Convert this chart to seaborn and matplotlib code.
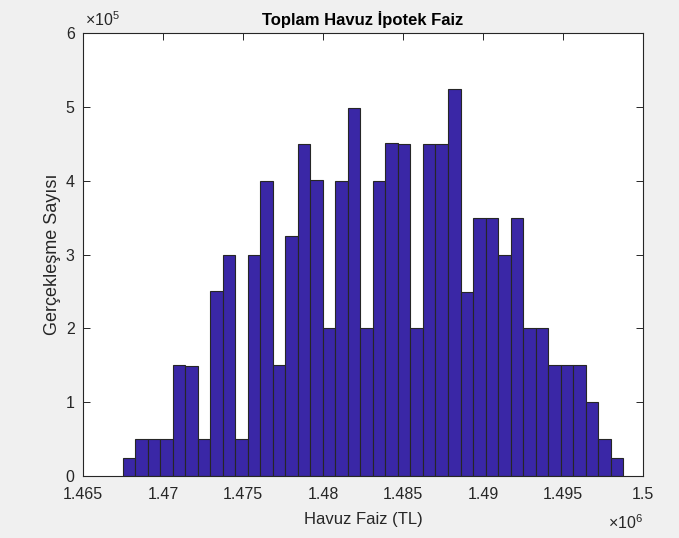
import numpy as np
import pandas as pd
import matplotlib
matplotlib.use("Agg")
import matplotlib.pyplot as plt
import seaborn as sns

# Histogram bins (TL) and occurrence counts per bin
bin_start = 1467500.0
bin_width = 781.25
counts = [25000, 50000, 50000, 50000, 150000, 149000, 50000, 250000, 300000, 50000,
          300000, 400000, 150000, 325000, 449000, 401000, 200000, 400000, 499000, 200000,
          400000, 451000, 449000, 200000, 449000, 450000, 524000, 249000, 349000, 350000,
          300000, 350000, 200000, 200000, 150000, 150000, 150000, 100000, 50000, 25000]
x_ticks = [1.465e6, 1.47e6, 1.475e6, 1.48e6, 1.485e6, 1.49e6, 1.495e6, 1.5e6]
x_tick_labels = ["1.465", "1.47", "1.475", "1.48", "1.485", "1.49", "1.495", "1.5"]
y_ticks = [0, 1e5, 2e5, 3e5, 4e5, 5e5, 6e5]
y_tick_labels = ["0", "1", "2", "3", "4", "5", "6"]

edges = bin_start + bin_width * np.arange(len(counts) + 1)
centers = (edges[:-1] + edges[1:]) / 2
df = pd.DataFrame({"faiz": centers, "n": counts})

sns.set_theme(style="white")
plt.rcParams["font.family"] = ["Liberation Sans", "DejaVu Sans"]
plt.rcParams["mathtext.fontset"] = "custom"
plt.rcParams["mathtext.rm"] = "Liberation Sans"
plt.rcParams["mathtext.it"] = "Liberation Sans"

fig = plt.figure(figsize=(6.79, 5.38), dpi=100, facecolor="#f0f0f0")
ax = fig.add_axes([0.1222, 0.1152, 0.8248, 0.8235])
ax.set_facecolor("white")

sns.histplot(data=df, x="faiz", weights="n", binwidth=bin_width,
             binrange=(float(edges[0]), float(edges[-1])), ax=ax,
             color="#3a27a6", alpha=1.0, edgecolor="#262626", linewidth=0.8)

ax.set_xlim(1.465e6, 1.5e6)
ax.set_ylim(0, 6e5)
ax.set_xticks(x_ticks)
ax.set_xticklabels(x_tick_labels)
ax.set_yticks(y_ticks)
ax.set_yticklabels(y_tick_labels)

tick_col = "#262626"
ax.tick_params(axis="both", direction="in", length=5, width=0.7, color=tick_col,
               labelsize=11.5, labelcolor=tick_col, top=True, right=True,
               bottom=True, left=True)
ax.tick_params(axis="x", pad=8)
ax.tick_params(axis="y", pad=6)
for s in ax.spines.values():
    s.set_visible(True)
    s.set_color(tick_col)
    s.set_linewidth(0.8)

ax.set_title("Toplam Havuz İpotek Faiz", fontsize=12, fontweight="bold",
             color="black", pad=6)
ax.set_xlabel("Havuz Faiz (TL)", fontsize=12, color=tick_col, labelpad=7)
ax.set_ylabel("Gerçekleşme Sayısı", fontsize=13, color=tick_col, labelpad=3)

ax.text(0.003, 1.01, r"$\times10^{5}$", transform=ax.transAxes, fontsize=11.5,
        color=tick_col, ha="left", va="bottom")
ax.text(1.0, -0.085, r"$\times10^{6}$", transform=ax.transAxes, fontsize=11.5,
        color=tick_col, ha="right", va="top")

fig.savefig("out.png", dpi=100, facecolor=fig.get_facecolor())
